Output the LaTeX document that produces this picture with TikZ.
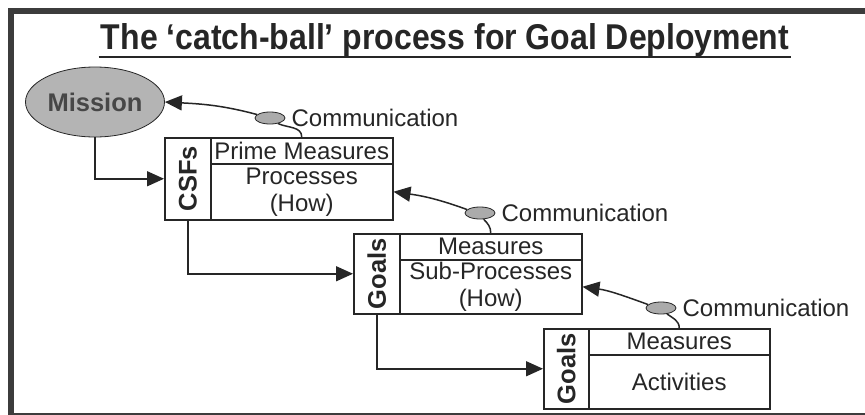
\documentclass[tikz,border=0pt]{standalone}
\usepackage{fontspec}
\setmainfont{Liberation Sans}
\usetikzlibrary{shapes.geometric,arrows.meta}
\definecolor{ink}{HTML}{262626}
\definecolor{framegray}{HTML}{3C3C3C}
\definecolor{ballgray}{HTML}{ABABAB}
\definecolor{missgray}{HTML}{B4B4B4}
\begin{document}
\begin{tikzpicture}[x=1pt,y=1pt,
  cell/.style={draw=ink, line width=1.5pt, rectangle, inner sep=0pt, anchor=north west},
  txt/.style={font=\fontsize{24}{27}\selectfont, text=ink, inner sep=0pt, align=center},
  vlab/.style={font=\fontsize{25.5}{27}\selectfont\bfseries, text=ink, rotate=90, inner sep=0pt},
  ball/.style={ellipse, draw=ink, line width=0.8pt, fill=ballgray, minimum width=30pt, minimum height=12pt, inner sep=0pt},
  ctext/.style={font=\fontsize{24}{27}\selectfont, text=ink, inner sep=0pt, anchor=west},
  link/.style={draw=ink, line width=1.5pt},
  tip/.style={-{Triangle[length=17pt,width=15pt]}}]

\useasboundingbox (0,-415) rectangle (865,0);
\clip (0,-415) rectangle (865,0);
\fill[white] (0,-415) rectangle (865,0);
\draw[framegray, line width=6pt] (11,-11) rectangle (900,-416);

% title
\node[font=\fontsize{32}{36}\selectfont\bfseries, text=ink, anchor=base, inner sep=0pt]
  (title) at (445,-49) {\scalebox{1}[1.12]{The ‘catch-ball’ process for Goal Deployment}};
\draw[ink, line width=1.6pt] ([xshift=-2pt,yshift=-8pt]title.base west) -- ([xshift=2pt,yshift=-8pt]title.base east);

% mission
\node[ellipse, draw=ink, line width=0.8pt, fill=missgray, minimum width=139pt, minimum height=70pt,
  inner sep=0pt, font=\fontsize{25.5}{27}\selectfont\bfseries, text=black!72] (mission) at (95,-102) {Mission};

% CSFs box
\node[cell, minimum width=46pt, minimum height=82pt] (csfL) at (164,-137) {};
\node[cell, minimum width=182pt, minimum height=26pt] (csfT) at (210,-137) {};
\node[cell, minimum width=182pt, minimum height=56pt] (csfB) at (210,-163) {};
\node[vlab] (csfLt) at (csfL.center) {CSFs};
\node[txt] (csfTt) at (csfT.center) {Prime Measures};
\node[txt] (csfBt) at (csfB.center) {Processes\\(How)};

% Goals box 1
\node[cell, minimum width=46pt, minimum height=80pt] (g1L) at (353,-233) {};
\node[cell, minimum width=182pt, minimum height=26pt] (g1T) at (399,-233) {};
\node[cell, minimum width=182pt, minimum height=54pt] (g1B) at (399,-259) {};
\node[vlab] (g1Lt) at (g1L.center) {Goals};
\node[txt] (g1Tt) at (g1T.center) {Measures};
\node[txt] (g1Bt) at (g1B.center) {Sub-Processes\\(How)};

% Goals box 2
\node[cell, minimum width=45pt, minimum height=80pt] (g2L) at (543,-328) {};
\node[cell, minimum width=181pt, minimum height=26pt] (g2T) at (588,-328) {};
\node[cell, minimum width=181pt, minimum height=54pt] (g2B) at (588,-354) {};
\node[vlab] (g2Lt) at (g2L.center) {Goals};
\node[txt] (g2Tt) at (g2T.center) {Measures};
\node[txt] (g2Bt) at (g2B.center) {Activities};

% communication balls
\node[ball] (comm1) at (270,-118) {};
\node[ball] (comm2) at (480,-213) {};
\node[ball] (comm3) at (661,-308) {};
\node[ctext] (comm1t) at ([xshift=6pt]comm1.east) {Communication};
\node[ctext] (comm2t) at ([xshift=6pt]comm2.east) {Communication};
\node[ctext] (comm3t) at ([xshift=6pt]comm3.east) {Communication};

% downward connectors
\draw[link, tip] (mission.south) |- (csfL.west);
\draw[link, tip] (csfL.south) |- (g1L.west);
\draw[link, tip] (g1L.south) |- (g2L.west);

% catch-ball connectors
\draw[link, tip] (comm1.165) to[out=165, in=-3] (mission.east);
\draw[link] (comm1.-35) to[out=-25, in=90] (csfT.north);
\draw[link, tip] (comm2.165) to[out=160, in=-8] (csfB.east);
\draw[link] (comm2.-60) to[out=-45, in=90] (g1T.north);
\draw[link, tip] (comm3.165) to[out=160, in=-8] (g1B.east);
\draw[link] (comm3.-45) to[out=-35, in=90] (g2T.north);
\end{tikzpicture}
\end{document}
